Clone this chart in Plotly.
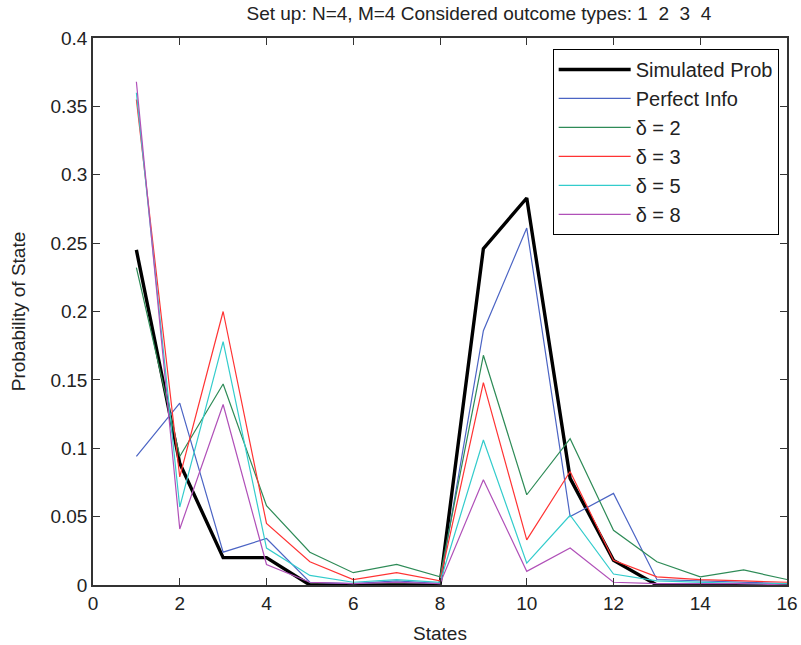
import plotly.graph_objects as go

states = list(range(1, 17))
simulated = [0.245, 0.089, 0.020, 0.020, 0.000, 0.000, 0.000, 0.000, 0.246, 0.283, 0.078, 0.018, 0.000, 0.000, 0.000, 0.000]
perfect   = [0.094, 0.133, 0.024, 0.034, 0.002, 0.001, 0.003, 0.001, 0.186, 0.261, 0.050, 0.067, 0.004, 0.003, 0.002, 0.001]
delta2    = [0.232, 0.094, 0.147, 0.058, 0.024, 0.009, 0.015, 0.006, 0.168, 0.066, 0.107, 0.040, 0.017, 0.006, 0.011, 0.004]
delta3    = [0.355, 0.079, 0.200, 0.045, 0.017, 0.004, 0.009, 0.003, 0.148, 0.033, 0.083, 0.018, 0.006, 0.004, 0.003, 0.002]
delta5    = [0.360, 0.057, 0.178, 0.027, 0.007, 0.002, 0.004, 0.002, 0.106, 0.016, 0.051, 0.008, 0.003, 0.002, 0.001, 0.001]
delta8    = [0.368, 0.041, 0.132, 0.015, 0.002, 0.001, 0.002, 0.001, 0.077, 0.010, 0.027, 0.002, 0.001, 0.001, 0.001, 0.000]

series = [
    ("Simulated Prob", simulated, "#000000", 3.4),
    ("Perfect Info", perfect, "#4b64c4", 1.2),
    ("δ = 2", delta2, "#2e8b57", 1.2),
    ("δ = 3", delta3, "#ff3333", 1.2),
    ("δ = 5", delta5, "#33cccc", 1.2),
    ("δ = 8", delta8, "#b050b8", 1.2),
]

x_ticks = list(range(0, 17, 2))
y_ticks = [0, 0.05, 0.1, 0.15, 0.2, 0.25, 0.3, 0.35, 0.4]
y_tick_text = ["0", "0.05", "0.1", "0.15", "0.2", "0.25", "0.3", "0.35", "0.4"]

fig = go.Figure()
for name, vals, color, w in series:
    fig.add_trace(go.Scatter(x=states, y=vals, mode="lines", name=name,
                             line=dict(color=color, width=w)))

font_family = "Liberation Sans, Arial, sans-serif"
fig.update_layout(
    width=801, height=645,
    margin=dict(l=93, r=14, t=38, b=60),
    paper_bgcolor="white", plot_bgcolor="white",
    font=dict(family=font_family, size=19, color="#222222"),
    title=dict(text="Set up: N=4, M=4 Considered outcome types: 1  2  3  4",
               xref="paper", x=0.556, xanchor="center",
               yref="container", y=0.98, yanchor="middle",
               font=dict(size=19, family=font_family, color="#222222")),
    legend=dict(x=0.988, y=0.98, xanchor="right", yanchor="top",
                bordercolor="black", borderwidth=1, bgcolor="white",
                font=dict(size=20, family=font_family, color="#222222"),
                itemwidth=72, tracegroupgap=0),
    showlegend=True,
)
fig.update_xaxes(range=[0, 16], tickvals=x_ticks, ticks="inside", ticklen=7,
                 tickcolor="#333333",
                 showline=True, linecolor="#333333", linewidth=1.5, mirror="ticks",
                 showgrid=False, zeroline=False, automargin=False,
                 title=dict(text="States", standoff=14, font=dict(size=19)),
                 tickfont=dict(size=19))
fig.update_yaxes(range=[0, 0.4], tickvals=y_ticks, ticktext=y_tick_text,
                 ticks="inside", ticklen=7, tickcolor="#333333",
                 showline=True, linecolor="#333333", linewidth=1.5, mirror="ticks",
                 showgrid=False, zeroline=False, automargin=False,
                 title=dict(text="Probability of State", standoff=20, font=dict(size=19)),
                 tickfont=dict(size=19))

fig.write_html("out.html", config={"displayModeBar": False},
               post_script="document.body.style.margin='0';")
